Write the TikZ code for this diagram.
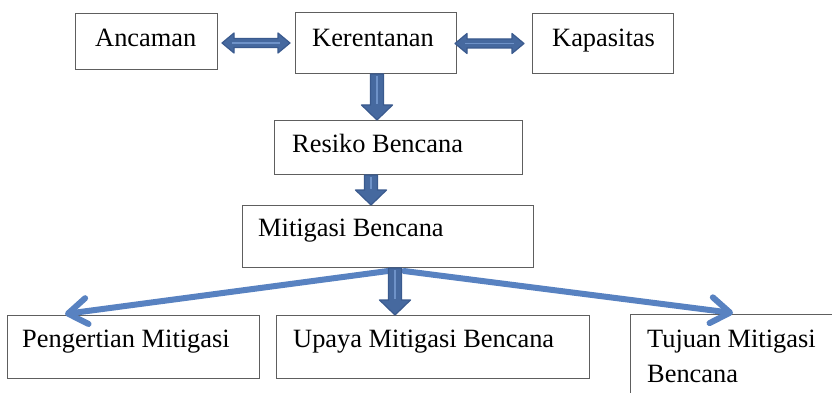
\documentclass[tikz,border=0pt]{standalone}
\usepackage{fontspec}
\setmainfont{Liberation Serif}
\usetikzlibrary{calc,arrows.meta}

\definecolor{boxline}{HTML}{5E5E5E}
\definecolor{blkfill}{HTML}{46699F}
\definecolor{blkedge}{HTML}{3A5A8E}
\definecolor{blkshine}{HTML}{6E92C8}
\definecolor{linkblue}{HTML}{5882C1}

\tikzset{
  box/.style={draw=boxline, line width=1pt, anchor=north west, inner sep=0pt},
  lbl/.style={anchor=base west, inner sep=0pt, font=\fontsize{26.4}{32}\selectfont},
  blk/.style={fill=blkfill, draw=blkedge, line width=1.2pt, line join=round},
  shine/.style={draw=blkshine, line width=2.6pt},
  link/.style={draw=linkblue, line width=6pt, line cap=round,
    -{Straight Barb[length=19pt,width=26pt,round]}},
}

% block arrow pointing down at a given x, from the bottom of one box to the top of the next
\newcommand\downblock[3]{%
  \draw[blk] let \p1=(#2), \p2=(#3) in
    (#1pt-6.5pt,\y1) -- (#1pt+6.5pt,\y1) -- (#1pt+6.5pt,\y2+15pt) -- (#1pt+15.5pt,\y2+15pt)
    -- (#1pt,\y2) -- (#1pt-15.5pt,\y2+15pt) -- (#1pt-6.5pt,\y2+15pt) -- cycle;
  \draw[shine] let \p1=(#2), \p2=(#3) in (#1pt,\y1-2pt) -- (#1pt,\y2+16pt);
}

% horizontal double-headed block arrow between two points
\newcommand\sideblock[2]{%
  \draw[blk] let \p1=#1, \p2=#2 in
    (\x1,\y2) -- (\x1+12pt,\y2+10pt) -- (\x1+12pt,\y2+4.5pt) -- (\x2-12pt,\y2+4.5pt)
    -- (\x2-12pt,\y2+10pt) -- (\x2,\y2) -- (\x2-12pt,\y2-10pt) -- (\x2-12pt,\y2-4.5pt)
    -- (\x1+12pt,\y2-4.5pt) -- (\x1+12pt,\y2-10pt) -- cycle;
  \draw[shine, line width=1.4pt] let \p1=#1, \p2=#2 in (\x1+10pt,\y2) -- (\x2-10pt,\y2);
}

\begin{document}
\begin{tikzpicture}[x=1pt, y=-1pt]
  \useasboundingbox (0,0) rectangle (832,393);
  \fill[white] (0,0) rectangle (832,393);
  \clip (0,0) rectangle (832,393);

  % boxes
  \node[box, minimum width=142, minimum height=56] (anc) at (75,13) {};
  \node[box, minimum width=161, minimum height=61] (ker) at (295,12) {};
  \node[box, minimum width=141, minimum height=60] (kap) at (532,13) {};
  \node[box, minimum width=248, minimum height=54] (res) at (274,120) {};
  \node[box, minimum width=291, minimum height=62] (mit) at (242,205) {};
  \node[box, minimum width=252, minimum height=63] (pen) at (7,315) {};
  \node[box, minimum width=313, minimum height=63] (upa) at (276,315) {};
  \node[box, minimum width=260, minimum height=120] (tuj) at (630,314) {};

  % labels
  \node[lbl] (anc-t) at (95,47) {Ancaman};
  \node[lbl] (ker-t) at (312,47) {Kerentanan};
  \node[lbl] (kap-t) at (552,47) {Kapasitas};
  \node[lbl] (res-t) at (292,152) {Resiko Bencana};
  \node[lbl] (mit-t) at (258,236) {Mitigasi Bencana};
  \node[lbl] (pen-t) at (22,347) {Pengertian Mitigasi};
  \node[lbl] (upa-t) at (293,347) {Upaya Mitigasi Bencana};
  \node[lbl] (tuj-t1) at (647,347) {Tujuan Mitigasi};
  \node[lbl] (tuj-t2) at (647,382) {Bencana};

  % double block arrows in the top row
  \sideblock{($(anc.east)+(4,0)$)}{($(ker.west)+(-5,0)$)}
  \sideblock{($(ker.east)+(-2,0)$)}{($(kap.west)+(-8,0)$)}

  % downward block arrows
  \downblock{377}{ker.south}{res.north}
  \downblock{371}{res.south}{mit.north}

  % fan-out to the three sub-topics
  \draw[link] ($(mit.south)+(0,3)$) -- ($(pen.north west)+(58,-1)$);
  \draw[link] ($(mit.south)+(16,3)$) -- ($(tuj.north west)+(103,-1)$);
  \downblock{395}{mit.south}{upa.north}
\end{tikzpicture}
\end{document}
